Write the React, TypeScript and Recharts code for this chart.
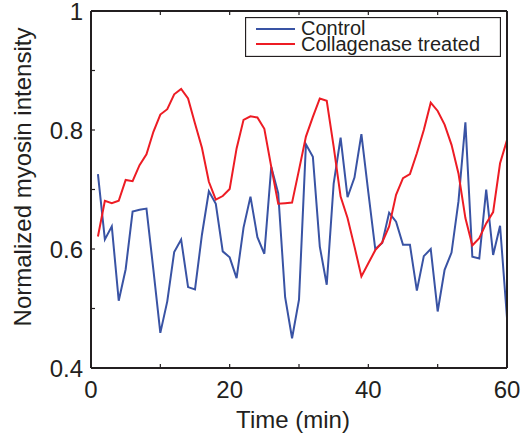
import { Label, Legend, Line, LineChart, XAxis, YAxis } from "recharts";

// 対照群とコラゲナーゼ処理群のミオシン強度（1分ごと）

const BLUE = "#3953a4";
const RED = "#ed1c24";
const INK = "#231f20";
const FONT = "'Liberation Sans', Arial, sans-serif";

const minutes = Array.from({ length: 60 }, (_, i) => i + 1);

const control = [
  0.726, 0.616, 0.638, 0.513, 0.566, 0.663, 0.666, 0.668, 0.565, 0.459,
  0.512, 0.595, 0.616, 0.536, 0.532, 0.624, 0.697, 0.676, 0.596, 0.586,
  0.551, 0.636, 0.688, 0.62, 0.592, 0.738, 0.694, 0.519, 0.45, 0.515,
  0.776, 0.755, 0.604, 0.54, 0.71, 0.787, 0.687, 0.72, 0.793, 0.695,
  0.6, 0.61, 0.661, 0.646, 0.607, 0.607, 0.53, 0.588, 0.6, 0.495,
  0.565, 0.594, 0.68, 0.813, 0.587, 0.584, 0.7, 0.59, 0.639, 0.484,
];

const collagenase = [
  0.621, 0.681, 0.677, 0.681, 0.716, 0.714, 0.741, 0.759, 0.797, 0.826,
  0.835, 0.86, 0.869, 0.853, 0.811, 0.77, 0.713, 0.683, 0.689, 0.701,
  0.769, 0.817, 0.823, 0.821, 0.802, 0.738, 0.676, 0.677, 0.678, 0.733,
  0.789, 0.822, 0.853, 0.849, 0.772, 0.688, 0.652, 0.604, 0.554, 0.576,
  0.598, 0.611, 0.638, 0.691, 0.719, 0.726, 0.761, 0.8, 0.846, 0.832,
  0.809, 0.775, 0.727, 0.652, 0.606, 0.618, 0.643, 0.662, 0.744, 0.783,
];

const xTicks = [0, 10, 20, 30, 40, 50, 60];
const yTicks = [0.4, 0.5, 0.6, 0.7, 0.8, 0.9, 1];

const data = minutes.map((t, i) => ({
  t,
  control: control[i],
  collagenase: collagenase[i],
}));

const TICK_LEN = 4;

// 目盛りは内向き（MATLAB風）。ラベルは一つおき。
function BottomTick({ x, y, payload }: any) {
  const v = payload.value as number;
  return (
    <g>
      <line x1={x} y1={y} x2={x} y2={y - TICK_LEN} stroke={INK} strokeWidth={1.2} />
      {v % 20 === 0 && (
        <text x={x} y={y + 30} textAnchor="middle" fontSize={24} fill={INK} fontFamily={FONT}>
          {v}
        </text>
      )}
    </g>
  );
}

function TopTick({ x, y }: any) {
  return <line x1={x} y1={y} x2={x} y2={y + TICK_LEN} stroke={INK} strokeWidth={1.2} />;
}

function LeftTick({ x, y, payload }: any) {
  const v = payload.value as number;
  const showLabel = Math.round(v * 10) % 2 === 0;
  return (
    <g>
      <line x1={x} y1={y} x2={x + TICK_LEN} y2={y} stroke={INK} strokeWidth={1.2} />
      {showLabel && (
        <text x={x - 8} y={y + 9} textAnchor="end" fontSize={24} fill={INK} fontFamily={FONT}>
          {String(Math.round(v * 10) / 10)}
        </text>
      )}
    </g>
  );
}

function RightTick({ x, y }: any) {
  return <line x1={x} y1={y} x2={x - TICK_LEN} y2={y} stroke={INK} strokeWidth={1.2} />;
}

function LegendBox() {
  return (
    <svg width={256} height={40} style={{ display: "block" }}>
      <rect x={0.5} y={0.5} width={255} height={39} fill="#fff" stroke={INK} strokeWidth={1.3} />
      <line x1={11} y1={12} x2={50} y2={12} stroke={BLUE} strokeWidth={2} />
      <line x1={11} y1={27} x2={50} y2={27} stroke={RED} strokeWidth={2} />
      <text x={56} y={18} fontSize={20} fill={INK} fontFamily={FONT}>
        Control
      </text>
      <text x={56} y={33.5} fontSize={20} fill={INK} fontFamily={FONT}>
        Collagenase treated
      </text>
    </svg>
  );
}

export default function App() {
  return (
    <div style={{ position: "absolute", left: 0, top: 0, width: 525, height: 440, background: "#fff" }}>
      <LineChart width={525} height={440} data={data} margin={{ top: 10, right: 17, left: 0, bottom: 0 }}>
        <XAxis
          xAxisId="bottom"
          dataKey="t"
          type="number"
          domain={[0, 60]}
          ticks={xTicks}
          interval={0}
          height={72}
          tickSize={0}
          tickMargin={0}
          tickLine={false}
          tick={<BottomTick />}
          axisLine={{ stroke: INK, strokeWidth: 2 }}
        >
          <Label
            content={() => (
              <text x={293} y={428} textAnchor="middle" fontSize={24} fill={INK} fontFamily={FONT}>
                Time (min)
              </text>
            )}
          />
        </XAxis>
        <XAxis
          xAxisId="top"
          dataKey="t"
          type="number"
          orientation="top"
          domain={[0, 60]}
          ticks={xTicks.slice(1, -1)}
          interval={0}
          height={1}
          tickSize={0}
          tickMargin={0}
          tickLine={false}
          tick={<TopTick />}
          axisLine={{ stroke: INK, strokeWidth: 2 }}
        />
        <YAxis
          yAxisId="left"
          type="number"
          domain={[0.4, 1]}
          ticks={yTicks}
          interval={0}
          width={91}
          tickSize={0}
          tickMargin={0}
          tickLine={false}
          tick={<LeftTick />}
          axisLine={{ stroke: INK, strokeWidth: 2 }}
        >
          <Label
            content={() => (
              <text
                x={31}
                y={177}
                transform="rotate(-90 31 177)"
                textAnchor="middle"
                fontSize={24}
                fill={INK}
                fontFamily={FONT}
              >
                Normalized myosin intensity
              </text>
            )}
          />
        </YAxis>
        <YAxis
          yAxisId="right"
          orientation="right"
          type="number"
          domain={[0.4, 1]}
          ticks={yTicks.slice(1, -1)}
          interval={0}
          width={1}
          tickSize={0}
          tickMargin={0}
          tickLine={false}
          tick={<RightTick />}
          axisLine={{ stroke: INK, strokeWidth: 2 }}
        />
        <Legend
          layout="horizontal"
          verticalAlign="middle"
          align="center"
          content={() => <LegendBox />}
          wrapperStyle={{ position: "absolute", left: 245, top: 17, width: 256, height: 40 }}
        />
        <Line
          xAxisId="bottom"
          yAxisId="left"
          dataKey="control"
          stroke={BLUE}
          strokeWidth={2}
          dot={false}
          isAnimationActive={false}
        />
        <Line
          xAxisId="bottom"
          yAxisId="left"
          dataKey="collagenase"
          stroke={RED}
          strokeWidth={2}
          dot={false}
          isAnimationActive={false}
        />
      </LineChart>
    </div>
  );
}
